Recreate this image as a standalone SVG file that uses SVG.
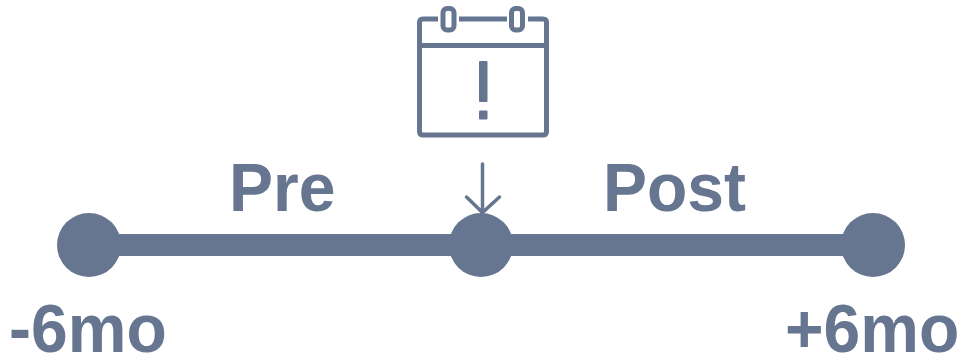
<svg xmlns="http://www.w3.org/2000/svg" width="963" height="358" viewBox="0 0 963 358">
<style>
.l{font-family:"Liberation Sans",Arial,sans-serif;font-weight:700;font-size:69px;fill:#667590}
.s{fill:none;stroke:#667590;stroke-width:5}
.a{fill:none;stroke:#667590;stroke-width:3.5;stroke-linecap:round}
.d{fill:#667590}
</style>
<g id="connectors"><rect class="d" x="89" y="234" width="784" height="22"/>
<path class="a" d="M482.5 164V212.500M466.500 197L482.500 212.500L499.500 197"/></g>
<g id="node-start"><circle class="d" cx="89" cy="245" r="32"/><text class="l" transform="translate(9 352) scale(.957 1)">-6mo</text></g>
<g id="node-event"><circle class="d" cx="481" cy="245" r="32"/></g>
<g id="node-end"><circle class="d" cx="873" cy="245" r="32"/><text class="l" transform="translate(785 352) scale(.957 1)">+6mo</text></g>
<g id="calendar">
<path class="s" d="M438 19H423Q419.500 19 419.500 22.500V131.500Q419.500 135 423 135H543Q546.500 135 546.500 131.500V22.500Q546.500 19 543 19H528M459 19H507M419.500 45.500H546.500"/>
<rect x="443" y="8.500" width="11" height="21.500" rx="4" class="s"/>
<rect x="511.500" y="8.500" width="11" height="21.500" rx="4" class="s"/>
<rect class="d" x="479" y="61" width="8.500" height="41" rx="1"/><rect class="d" x="479" y="110.500" width="8.500" height="9" rx="1"/>
</g>
<text class="l" transform="translate(229 211) scale(.957 1)">Pre</text>
<text class="l" transform="translate(603 211) scale(.957 1)">Post</text>
</svg>
